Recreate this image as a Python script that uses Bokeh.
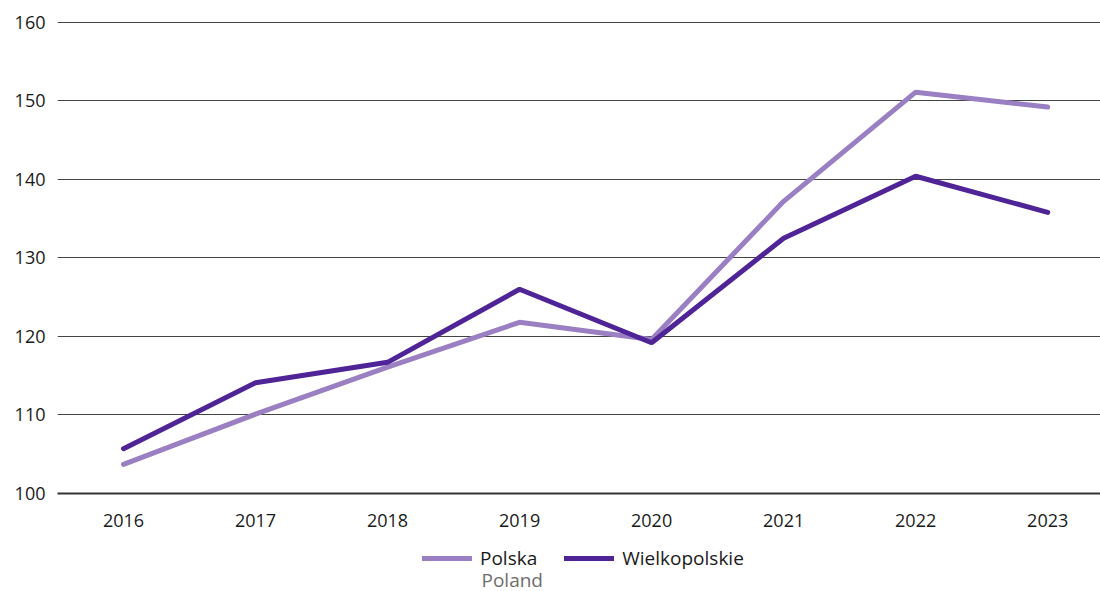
from bokeh.plotting import figure
from bokeh.models import Range1d, FixedTicker, Legend, LegendItem, Label
from bokeh.layouts import column
from bokeh.embed import file_html
from bokeh.resources import INLINE

years = [2016, 2017, 2018, 2019, 2020, 2021, 2022, 2023]
polska = [103.7, 110.1, 116.1, 121.8, 119.6, 137.2, 151.1, 149.2]
wielkopolskie = [105.7, 114.1, 116.7, 126.0, 119.2, 132.5, 140.4, 135.8]
y_ticks = [100, 110, 120, 130, 140, 150, 160]
series_names = ["Polska", "Wielkopolskie"]
subtitle = "Poland"

FONT = "Open Sans"
C_LIGHT = "#9a7fc3"
C_DARK = "#4f2497"
W = 1100
LEFT = 57
H1 = 535
H2 = 56

p = figure(width=W, height=H1, output_backend="svg", toolbar_location=None,
           x_range=Range1d(2015.5, 2023.40), y_range=Range1d(100, 160.1),
           min_border_left=LEFT, min_border_right=0, min_border_top=21, min_border_bottom=42)
p.outline_line_color = None
p.xgrid.grid_line_color = None
p.ygrid.grid_line_color = "#444444"
p.ygrid.grid_line_width = 1

p.yaxis.ticker = FixedTicker(ticks=y_ticks)
p.yaxis.axis_line_color = None
p.yaxis.major_tick_line_color = None
p.yaxis.minor_tick_line_color = None
p.yaxis.major_label_standoff = 6
p.yaxis.major_label_text_font = FONT
p.yaxis.major_label_text_font_size = "18px"
p.yaxis.major_label_text_color = "#1a1a1a"

p.xaxis.ticker = FixedTicker(ticks=years)
p.xaxis.axis_line_color = "#333333"
p.xaxis.axis_line_width = 2
p.xaxis.major_tick_line_color = None
p.xaxis.minor_tick_line_color = None
p.xaxis.major_label_standoff = 14
p.xaxis.major_label_text_font = FONT
p.xaxis.major_label_text_font_size = "18px"
p.xaxis.major_label_text_color = "#1a1a1a"

p.line(years, polska, line_color=C_LIGHT, line_width=5, line_cap="round")
p.line(years, wielkopolskie, line_color=C_DARK, line_width=5, line_cap="round")

# legend strip: frame aligned with the chart, 1 data unit = 1 pixel
q = figure(width=W, height=H2, output_backend="svg", toolbar_location=None,
           x_range=Range1d(0, W - LEFT), y_range=Range1d(0, H2),
           min_border_left=LEFT, min_border_right=0, min_border_top=0, min_border_bottom=0,
           x_axis_location=None, y_axis_location=None)
q.outline_line_color = None
q.xgrid.visible = False
q.ygrid.visible = False
# same series drawn off-range so that the legend has real renderers to show
g1 = q.line(years, polska, line_color=C_LIGHT, line_width=5, line_cap="round")
g2 = q.line(years, wielkopolskie, line_color=C_DARK, line_width=5, line_cap="round")
legend = Legend(items=[LegendItem(label=series_names[0], renderers=[g1]),
                       LegendItem(label=series_names[1], renderers=[g2])],
                orientation="horizontal", location=(365, 20),
                label_text_font=FONT, label_text_font_size="19px", label_text_color="#1a1a1a",
                glyph_width=50, glyph_height=20, label_standoff=8, spacing=27,
                margin=0, padding=0, border_line_color=None, background_fill_alpha=0)
q.add_layout(legend)
q.add_layout(Label(x=424, y=12, text=subtitle, text_font=FONT, text_font_size="19px",
                   text_color="#6d6d6d", text_baseline="alphabetic"))

layout = column(p, q, spacing=0)
open("out.html", "w").write(file_html(layout, INLINE))
